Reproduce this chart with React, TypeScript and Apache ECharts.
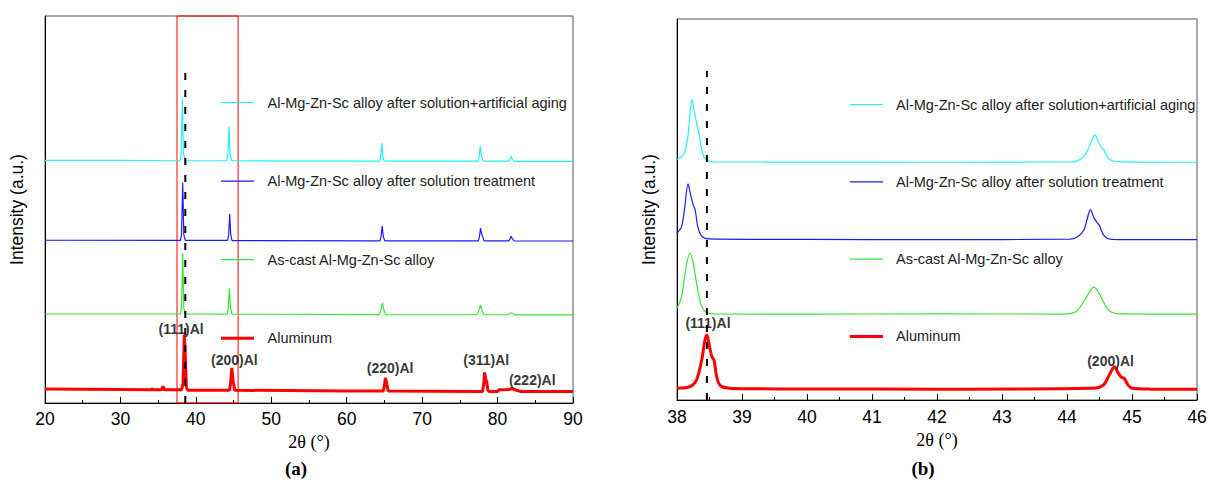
import React, { useEffect, useRef } from "react";
import * as echarts from "echarts";

const SANS = 'Arial, "Liberation Sans", Helvetica, sans-serif';
const SERIF = '"Times New Roman", "Liberation Serif", serif';

const NAME_AGED = "Al-Mg-Zn-Sc alloy after solution+artificial aging";
const NAME_SOL = "Al-Mg-Zn-Sc alloy after solution treatment";
const NAME_CAST = "As-cast Al-Mg-Zn-Sc alloy";
const NAME_AL = "Aluminum";
const legendOrder = [NAME_AGED, NAME_SOL, NAME_CAST, NAME_AL];

const COLOR_AGED = "#22f2f2";
const COLOR_SOL = "#1a1aff";
const COLOR_CAST = "#33e633";
const COLOR_AL = "#ff0000";

// ---------- panel (a): 2θ 20–90 ----------
const aTicks = { min: 20, max: 90, step: 10 };
const aAged: [number, number][] = [
  [20, 62.7], [30, 62.7], [37.9, 62.6], [38.05, 64.5], [38.21, 78.7], [38.35, 64.5], [38.6, 62.6],
  [44.1, 62.6], [44.25, 64.0], [44.4, 71.3], [44.55, 64.0], [44.75, 62.6],
  [64.35, 62.5], [64.5, 63.5], [64.65, 67.1], [64.8, 63.5], [65.0, 62.5],
  [77.4, 62.5], [77.55, 63.5], [77.7, 66.4], [77.85, 64.0], [78.1, 62.5],
  [81.55, 62.5], [81.7, 63.2], [81.8, 63.75], [81.95, 63.0], [82.2, 62.45], [90, 62.45],
];
const aSol: [number, number][] = [
  [20, 42.05], [37.95, 42.0], [38.1, 43.5], [38.26, 56.9], [38.4, 43.5], [38.6, 42.0],
  [44.2, 42.0], [44.35, 43.5], [44.49, 48.8], [44.62, 43.5], [44.8, 41.95],
  [64.4, 41.9], [64.55, 43.0], [64.7, 45.7], [64.85, 43.0], [65.05, 41.9],
  [77.45, 41.9], [77.6, 43.0], [77.74, 45.2], [77.9, 43.6], [78.0, 43.2], [78.2, 41.9],
  [81.5, 41.9], [81.7, 42.6], [81.8, 43.1], [81.95, 42.5], [82.2, 41.86], [90, 41.86],
];
const aCast: [number, number][] = [
  [20, 23.0], [37.95, 23.0], [38.1, 24.5], [38.26, 38.7], [38.4, 24.5], [38.6, 23.0],
  [44.15, 22.95], [44.3, 24.5], [44.44, 29.6], [44.6, 24.5], [44.8, 22.95],
  [64.3, 22.85], [64.5, 23.8], [64.74, 25.9], [64.95, 23.8], [65.2, 22.85],
  [77.3, 22.8], [77.5, 23.8], [77.74, 25.25], [77.95, 23.8], [78.2, 22.8],
  [81.4, 22.8], [81.6, 23.1], [81.8, 23.35], [82.0, 23.1], [82.3, 22.75], [90, 22.75],
];
const aAl: [number, number][] = [
  [20, 3.6], [30, 3.5], [34.1, 3.4], [34.2, 3.7], [34.3, 3.4], [35.45, 3.4], [35.65, 4.3], [35.85, 3.4],
  [38.1, 3.4], [38.3, 5.0], [38.47, 17.6], [38.6, 12.0], [38.75, 4.0], [38.95, 3.3],
  [44.45, 3.3], [44.6, 5.0], [44.76, 9.1], [44.95, 5.5], [45.15, 3.3],
  [60, 3.1], [64.85, 3.1], [65.0, 4.5], [65.13, 6.5], [65.3, 5.0], [65.5, 3.1],
  [78.0, 3.0], [78.15, 4.5], [78.27, 7.9], [78.45, 6.0], [78.56, 5.5], [78.7, 3.4], [78.9, 3.0],
  [80, 3.0], [80.2, 3.4], [81.5, 3.5], [81.9, 3.75], [82.5, 3.3], [83, 3.0], [90, 2.95],
];
const aRefLine: [number, number][] = [[38.6, 0], [38.6, 86.9]];
const aBox = { x0: 37.5, x1: 45.6 };
const aPeakLabels: { name: string; value: [number, number] }[] = [
  { name: "(111)Al", value: [38.04, 19.1] },
  { name: "(200)Al", value: [45.1, 11.1] },
  { name: "(220)Al", value: [65.76, 8.97] },
  { name: "(311)Al", value: [78.5, 11.1] },
  { name: "(222)Al", value: [84.6, 5.94] },
];

// ---------- panel (b): 2θ 38–46 ----------
const bTicks = { min: 38, max: 46, step: 1 };
const bAged: [number, number][] = [
  [38.0, 63.2], [38.1, 64.3], [38.16, 68.2], [38.2, 75.2], [38.23, 78.9], [38.27, 75.3], [38.31, 71.9],
  [38.34, 70.0], [38.38, 65.6], [38.43, 63.4], [38.56, 62.5], [40, 62.45], [42, 62.4],
  [44.1, 62.5], [44.22, 63.3], [44.3, 65.0], [44.37, 67.8], [44.43, 69.5], [44.48, 67.9],
  [44.53, 66.3], [44.57, 65.6], [44.62, 63.8], [44.7, 62.8], [44.86, 62.5], [46, 62.4],
];
const bSol: [number, number][] = [
  [38.0, 43.75], [38.07, 45.5], [38.12, 50.7], [38.17, 56.7], [38.21, 53.8], [38.25, 51.2], [38.28, 49.9],
  [38.32, 45.5], [38.38, 43.0], [38.48, 42.3], [40, 42.15], [42, 42.1],
  [44.05, 42.2], [44.17, 42.9], [44.26, 44.6], [44.31, 47.5], [44.36, 49.95], [44.41, 48.0],
  [44.46, 46.6], [44.5, 45.8], [44.55, 43.6], [44.62, 42.4], [44.8, 42.1], [46, 42.1],
];
const bCast: [number, number][] = [
  [38.0, 24.07], [38.07, 27.1], [38.14, 35.0], [38.2, 38.5], [38.25, 35.9], [38.31, 29.7], [38.38, 24.5],
  [38.46, 22.9], [38.6, 22.6], [40, 22.55], [42, 22.6],
  [43.94, 22.55], [44.14, 23.2], [44.27, 26.2], [44.35, 28.4], [44.41, 29.6], [44.48, 28.4],
  [44.56, 25.8], [44.65, 23.4], [44.81, 22.6], [46, 22.55],
];
const bAl: [number, number][] = [
  [38.0, 3.07], [38.2, 3.5], [38.3, 5.25], [38.38, 10.5], [38.43, 15.7], [38.46, 17.06], [38.5, 14.0],
  [38.54, 11.2], [38.57, 10.5], [38.61, 6.1], [38.66, 3.9], [38.76, 3.2], [39, 2.95], [40.2, 2.9], [42, 2.85],
  [44.39, 3.07], [44.56, 3.94], [44.65, 6.56], [44.73, 8.74], [44.79, 7.0], [44.84, 5.96], [44.88, 5.7],
  [44.94, 3.9], [45.0, 3.07], [45.3, 2.85], [46, 2.81],
];
const bRefLine: [number, number][] = [[38.46, 0], [38.46, 86.35]];
const bPeakLabels: { name: string; value: [number, number] }[] = [
  { name: "(111)Al", value: [38.476, 20.29] },
  { name: "(200)Al", value: [44.67, 10.24] },
];

function xAxisOpt(grid: number, t: { min: number; max: number; step: number }, nameGap: number, margin: number) {
  return {
    gridIndex: grid,
    type: "value",
    min: t.min,
    max: t.max,
    interval: t.step,
    name: "2θ (°)",
    nameLocation: "middle",
    nameGap,
    nameTextStyle: { fontFamily: SERIF, fontSize: 18, color: "#000" },
    axisLine: { show: true, onZero: false, lineStyle: { color: "#000", width: 1 } },
    axisTick: { show: true, inside: true, length: 6, lineStyle: { color: "#000", width: 1 } },
    minorTick: { show: true, splitNumber: 2, length: 3, lineStyle: { color: "#000", width: 1 } },
    axisLabel: { margin, fontSize: 17.5, color: "#000", fontFamily: SANS },
    splitLine: { show: false },
    minorSplitLine: { show: false },
  };
}

function yAxisOpt(grid: number) {
  return {
    gridIndex: grid,
    type: "value",
    min: 0,
    max: 100,
    name: "Intensity (a.u.)",
    nameLocation: "middle",
    nameGap: 19,
    nameTextStyle: { fontFamily: SANS, fontSize: 17.5, color: "#000" },
    axisLine: { show: true, onZero: false, lineStyle: { color: "#000", width: 1 } },
    axisTick: { show: false },
    axisLabel: { show: false },
    splitLine: { show: false },
  };
}

function curve(name: string, data: [number, number][], color: string, width: number, idx: number, smooth: number | boolean) {
  return {
    type: "line",
    name,
    xAxisIndex: idx,
    yAxisIndex: idx,
    data,
    symbol: "none",
    smooth,
    lineStyle: { color, width },
    itemStyle: { color },
    z: 3,
  };
}

function labels(data: { name: string; value: [number, number] }[], idx: number) {
  return {
    type: "scatter",
    xAxisIndex: idx,
    yAxisIndex: idx,
    data,
    symbolSize: 0,
    silent: true,
    z: 6,
    label: {
      show: true,
      position: "inside",
      formatter: "{b}",
      fontFamily: SANS,
      fontWeight: "bold",
      fontSize: 14,
      color: "#000",
    },
  };
}

function refLine(data: [number, number][], idx: number) {
  return {
    type: "line",
    xAxisIndex: idx,
    yAxisIndex: idx,
    data,
    symbol: "none",
    silent: true,
    lineStyle: { color: "#000", width: 2, type: [7, 10] },
    z: 8,
  };
}

const THIN_ICON = "path://M0,0H33V1.2H0Z";
const THICK_ICON = "path://M0,0H33V3H0Z";

function legendOpt(left: number, top: number, gap: number, textPad: number) {
  return {
    show: true,
    orient: "vertical",
    left,
    top,
    padding: 0,
    itemWidth: 33,
    itemHeight: 14,
    itemGap: gap,
    selectedMode: false,
    data: legendOrder.map((n) => ({ name: n, icon: n === NAME_AL ? THICK_ICON : THIN_ICON })),
    textStyle: { fontFamily: SANS, fontSize: 14.5, color: "#222", padding: [0, 0, 0, textPad] },
  };
}

export default function App() {
  const ref = useRef<HTMLDivElement>(null);
  useEffect(() => {
    if (!ref.current) return;
    const chart = echarts.init(ref.current, null, { renderer: "svg" });
    chart.setOption({
      animation: false,
      backgroundColor: "#fff",
      grid: [
        { left: 45, top: 16, width: 528, height: 387, show: true, borderColor: "#555", borderWidth: 1, backgroundColor: "transparent", outerBoundsMode: "none" },
        { left: 677, top: 19, width: 520, height: 381, show: true, borderColor: "#555", borderWidth: 1, backgroundColor: "transparent", outerBoundsMode: "none" },
      ],
      xAxis: [xAxisOpt(0, aTicks, 28, 7), xAxisOpt(1, bTicks, 29, 8)],
      yAxis: [yAxisOpt(0), yAxisOpt(1)],
      legend: [legendOpt(221, 95, 63.6, 8.5), legendOpt(850, 97, 62.3, 8)],
      graphic: [
        { type: "text", x: 296, y: 468, style: { text: "(a)", font: `bold 19px ${SERIF}`, fill: "#000", align: "center", verticalAlign: "middle", textAlign: "center", textVerticalAlign: "middle" } },
        { type: "text", x: 923, y: 468, style: { text: "(b)", font: `bold 19px ${SERIF}`, fill: "#000", align: "center", verticalAlign: "middle", textAlign: "center", textVerticalAlign: "middle" } },
      ],
      series: [
        curve(NAME_AGED, aAged, COLOR_AGED, 1.2, 0, false),
        curve(NAME_SOL, aSol, COLOR_SOL, 1.2, 0, false),
        curve(NAME_CAST, aCast, COLOR_CAST, 1.2, 0, false),
        {
          ...curve(NAME_AL, aAl, COLOR_AL, 3, 0, false),
          markArea: {
            silent: true,
            itemStyle: { color: "rgba(0,0,0,0)", borderColor: "#ff0000", borderWidth: 1 },
            data: [[{ xAxis: aBox.x0, yAxis: 0 }, { xAxis: aBox.x1, yAxis: 100 }]],
          },
        },
        refLine(aRefLine, 0),
        labels(aPeakLabels, 0),
        curve(NAME_AGED, bAged, COLOR_AGED, 1.2, 1, 0.3),
        curve(NAME_SOL, bSol, COLOR_SOL, 1.2, 1, 0.3),
        curve(NAME_CAST, bCast, COLOR_CAST, 1.2, 1, 0.3),
        curve(NAME_AL, bAl, COLOR_AL, 3, 1, 0.3),
        refLine(bRefLine, 1),
        labels(bPeakLabels, 1),
      ],
    });
    return () => chart.dispose();
  }, []);
  return <div ref={ref} style={{ position: "fixed", left: 0, top: 0, width: 1211, height: 480 }} />;
}
